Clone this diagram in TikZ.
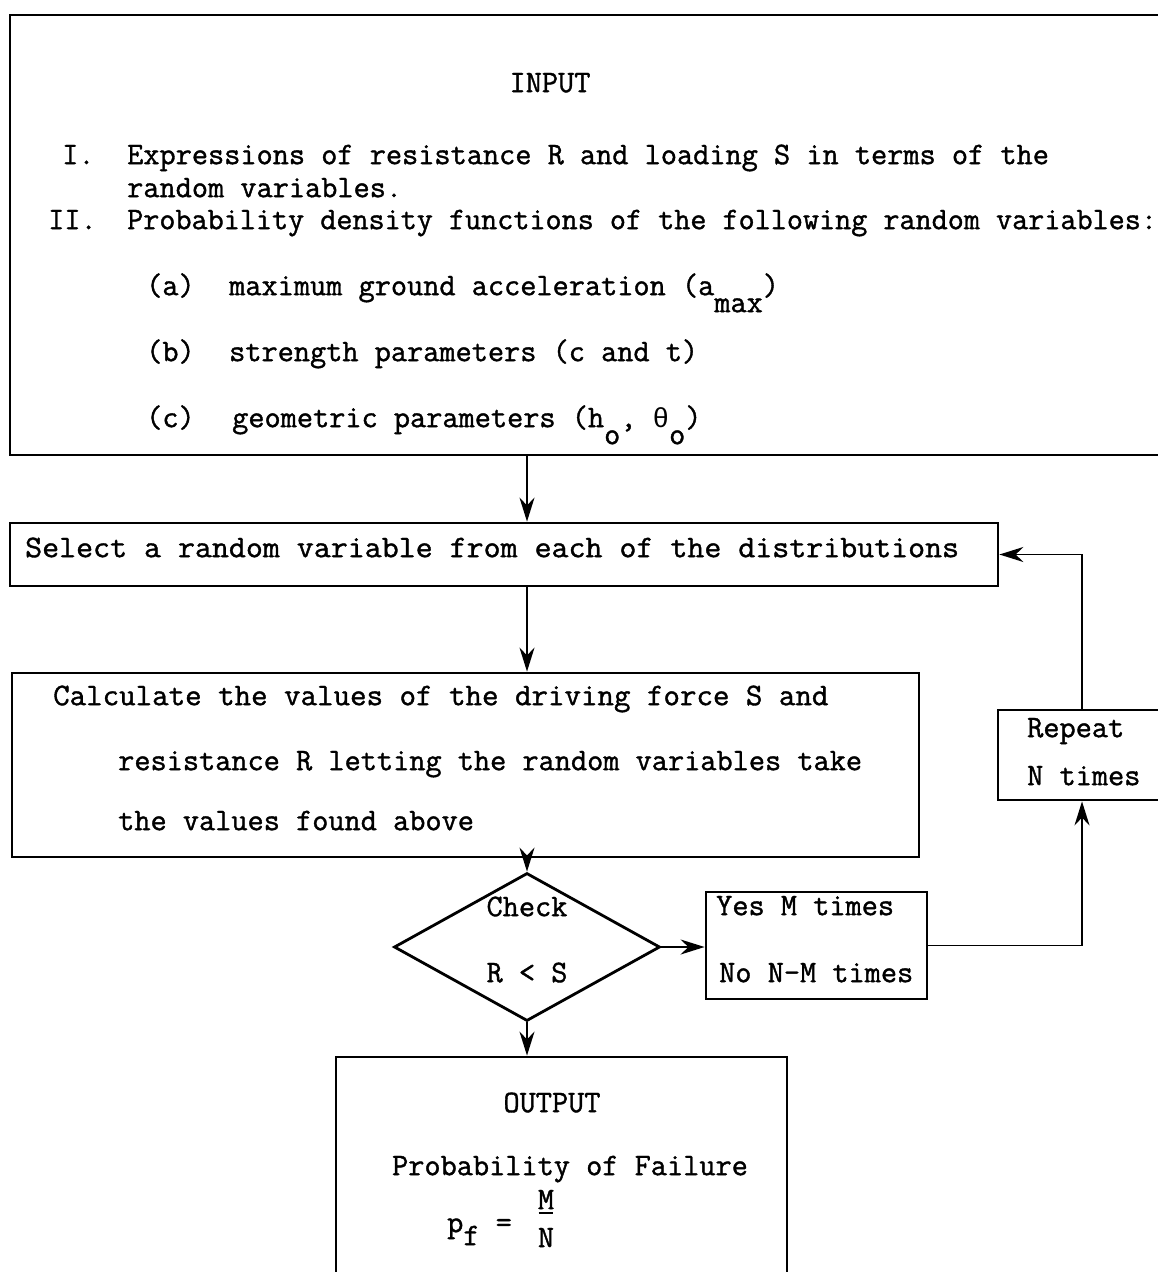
\documentclass[tikz,border=0pt]{standalone}
\usepackage{fontspec}
\setmonofont{Latin Modern Mono}[FakeBold=1.2]
\newfontfamily\thetafont{Liberation Mono}
\usetikzlibrary{shapes.geometric,arrows.meta,calc}
\begin{document}
\begin{tikzpicture}[x=1pt,y=-1pt,
  box/.style={draw, line width=2.8pt, inner sep=0pt},
  txt/.style={inner sep=0pt, font=\ttfamily\fontsize{31.4}{36}\selectfont},
  arr/.style={line width=2pt, -{Stealth[length=24pt,width=15pt]}},
  thinarr/.style={line width=1.8pt, -{Stealth[length=24pt,width=15pt]}}]
\useasboundingbox (0,0) rectangle (1158,1272);
\fill[white] (0,0) rectangle (1158,1272);
\clip (0,0) rectangle (1158,1272);
\coordinate (mid) at (527,0);

% boxes
\node[box, minimum width=1165pt, minimum height=440pt] (input) at (592.5,235) {};
\node[box, minimum width=988pt, minimum height=63pt] (select) at (504,554.5) {};
\node[box, minimum width=907pt, minimum height=184pt] (calc) at (465.5,765) {};
\node[box, minimum width=168pt, minimum height=90pt] (repeat) at (1082,755) {};
\node[box, diamond, minimum width=266pt, minimum height=148pt] (check) at (527,947) {};
\node[box, minimum width=221pt, minimum height=107pt] (yes) at (816.5,945.5) {};
\node[box, minimum width=451pt, minimum height=240pt] (output) at (561.5,1177) {};

% input text
\node[txt, anchor=mid] (intitle) at (550,90) {INPUT};
\node[txt, anchor=mid west] (i1) at (62,162) {I.};
\node[txt, anchor=mid west] (i1a) at (127,162) {Expressions of resistance R and loading S in terms of the};
\node[txt, anchor=mid west] (i1b) at (127,195) {random variables.};
\node[txt, anchor=mid west] (i2) at (48,227) {II.};
\node[txt, anchor=mid west] (i2a) at (127,227) {\scalebox{0.995}[1]{Probability density functions of the following random variables:}};
\node[txt, anchor=mid west] (ia) at (146,293) {(a)};
\node[txt, anchor=mid west] (iat) at (229,293) {maximum ground acceleration (a\raisebox{-17pt}{max})};
\node[txt, anchor=mid west] (ib) at (146,359) {(b)};
\node[txt, anchor=mid west] (ibt) at (229,359) {strength parameters (c and t)};
\node[txt, anchor=mid west] (ic) at (146,425) {(c)};
\node[txt, anchor=mid west] (ict) at (232,425) {geometric parameters (h\raisebox{-17pt}{o}, {\thetafont\fontsize{27.5}{33}\selectfont θ}\raisebox{-17pt}{o})};

% select text
\node[txt, anchor=mid west] (seltxt) at (25,555) {\scalebox{1.05}[1]{Select a random variable from each of the distributions}};

% calc text
\node[txt, anchor=mid west] (c1) at (53,703) {\scalebox{1.02}[1]{Calculate the values of the driving force S and}};
\node[txt, anchor=mid west] (c2) at (118,768) {resistance R letting the random variables take};
\node[txt, anchor=mid west] (c3) at (118,828) {the values found above};

% repeat text
\node[txt, anchor=mid west] (r1) at (1027,735) {Repeat};
\node[txt, anchor=mid west] (r2) at (1027,783) {N times};

% check text
\node[txt, anchor=mid] (ch1) at (527,914) {Check};
\node[txt, anchor=mid] (ch2) at (527,980) {R < S};

% yes text
\node[txt, anchor=mid west] (y1) at (716,913) {Yes M times};
\node[txt, anchor=mid west] (y2) at (719,980) {No N-M times};

% output text
\node[txt, anchor=mid] (o1) at (552,1110) {OUTPUT};
\node[txt, anchor=mid] (o2) at (570,1173) {Probability of Failure};
\node[txt, anchor=mid west] (pf) at (447,1230) {p\raisebox{-13pt}{f} =};
\node[txt, anchor=mid] (fm) at (546,1207) {M};
\node[txt, anchor=mid] (fn) at (546,1245) {N};
\draw[line width=1.8pt] ($(fm.south west)+(1,4)$) -- ($(fm.south east)+(-1,4)$);

% connectors
\draw[arr] (input.south -| mid) -- (select.north -| mid);
\draw[arr] (select.south -| mid) -- (calc.north -| mid);
\draw[arr] (calc.south -| mid) -- (check.north);
\draw[arr] (check.east) -- (yes.west |- check.east);
\draw[arr] (check.south) -- (output.north -| mid);
\draw[thinarr] (yes.east) -| (repeat.south);
\draw[thinarr] (repeat.north) |- (select.east);
\end{tikzpicture}
\end{document}
